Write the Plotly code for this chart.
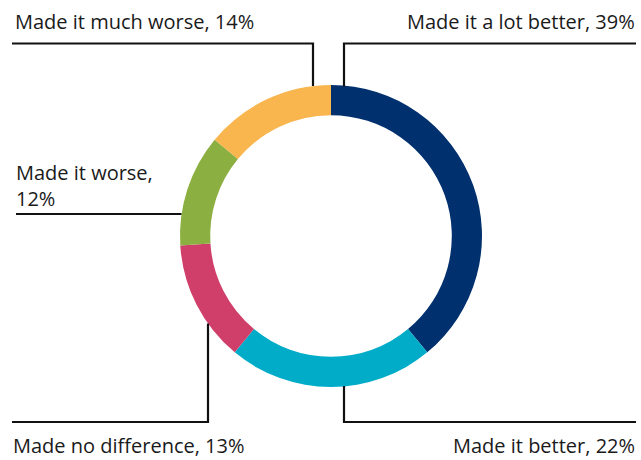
import plotly.graph_objects as go

categories = ["Made it a lot better", "Made it better", "Made no difference", "Made it worse", "Made it much worse"]
values = [39, 22, 13, 12, 14]
colors = ["#00306E", "#00ACC8", "#D03E6A", "#8BB041", "#F9B54E"]

W, H = 641, 460

def px(x):
    return x / W

def py(y):
    return 1 - y / H

fig = go.Figure(go.Pie(
    labels=categories,
    values=values,
    sort=False,
    direction="clockwise",
    rotation=0,
    hole=0.8,
    marker=dict(colors=colors, line=dict(width=0)),
    textinfo="none",
    hoverinfo="skip",
    showlegend=False,
    domain=dict(x=[px(180), px(482)], y=[py(387), py(85)]),
))

line = dict(color="#111111", width=2.2)
segments = [
    # top-left
    [(12, 43.5), (313, 43.5), (313, 86)],
    # top-right
    [(636, 43.5), (344, 43.5), (344, 86.5)],
    # left
    [(16, 214), (181.5, 214)],
    # bottom-left
    [(12, 422), (208, 422), (208, 323.5)],
    # bottom-right
    [(636, 422), (344, 422), (344, 386)],
]
shapes = []
for seg in segments:
    path = "M " + " L ".join(f"{px(x)},{py(y)}" for x, y in seg)
    shapes.append(dict(type="path", xref="paper", yref="paper", path=path, line=line))

font = dict(family="Open Sans, Noto Sans, sans-serif", size=20, color="#1a1a1a")
labels = [
    (f"{categories[4]}, {values[4]}%", 13, 22, "left"),
    (f"{categories[0]}, {values[0]}%", 637, 22, "right"),
    (f"{categories[3]},<br>{values[3]}%", 14, 185, "left"),
    (f"{categories[2]}, {values[2]}%", 11, 445, "left"),
    (f"{categories[1]}, {values[1]}%", 637, 445, "right"),
]
annotations = []
for text, x, y, anchor in labels:
    annotations.append(dict(
        text=text, x=px(x), y=py(y), xref="paper", yref="paper",
        xanchor=anchor, yanchor="middle", showarrow=False, align="left",
        font=font,
    ))

fig.update_layout(
    width=W, height=H,
    margin=dict(l=0, r=0, t=0, b=0),
    paper_bgcolor="white", plot_bgcolor="white",
    shapes=shapes, annotations=annotations,
)

fig.write_html(
    "out.html",
    config={"displayModeBar": False},
    post_script="document.body.style.margin='0';document.body.style.padding='0';document.body.style.overflow='hidden';",
)
